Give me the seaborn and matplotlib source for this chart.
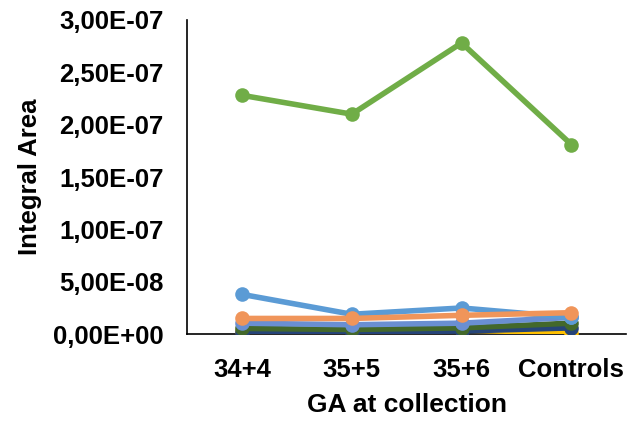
import matplotlib
matplotlib.use("Agg")
import matplotlib.pyplot as plt
import matplotlib.ticker as mticker
import seaborn as sns
import pandas as pd

categories = ["34+4", "35+5", "35+6", "Controls"]

# one list per series, drawn bottom-to-top in this order
gold = [3.0e-9, 3.0e-9, 4.0e-9, 1.0e-9]
dark_blue = [2.0e-9, 2.0e-9, 3.0e-9, 6.0e-9]
dark_green = [5.5e-9, 4.5e-9, 6.0e-9, 1.05e-8]
medium_blue = [1.05e-8, 9.0e-9, 1.05e-8, 1.6e-8]
light_blue = [3.8e-8, 1.9e-8, 2.5e-8, 1.6e-8]
orange = [1.5e-8, 1.5e-8, 1.8e-8, 2.05e-8]
green = [2.28e-7, 2.10e-7, 2.78e-7, 1.81e-7]

series = [
    ("S4", gold, "#FFC000"),
    ("S7", dark_blue, "#264478"),
    ("S12", dark_green, "#43682B"),
    ("S1", medium_blue, "#6A8FD2"),
    ("S5", light_blue, "#5B9BD5"),
    ("S2", orange, "#F0955A"),
    ("S6", green, "#70AD47"),
]

sns.set_theme(style="white")
plt.rcParams["font.family"] = ["Liberation Sans", "DejaVu Sans"]

fig = plt.figure(figsize=(6.43, 4.23), dpi=100)
ax = fig.add_axes([0.291, 0.210, 0.683, 0.743])

for i, (name, vals, color) in enumerate(series):
    df = pd.DataFrame({"GA": categories, "Area": vals})
    sns.lineplot(data=df, x="GA", y="Area", ax=ax, color=color,
                 linewidth=4.0, marker="o", markersize=10.5,
                 markeredgewidth=0, zorder=2 + i, sort=False)

ax.set_xlim(-0.5, 3.5)
ax.set_ylim(0, 3.0e-7)
ax.yaxis.set_major_locator(mticker.MultipleLocator(5e-8))
ax.yaxis.set_major_formatter(
    mticker.FuncFormatter(lambda v, _: f"{v:.2E}".replace(".", ",")))

for s in ["top", "right"]:
    ax.spines[s].set_visible(False)
for s in ["left", "bottom"]:
    ax.spines[s].set_color("black")
    ax.spines[s].set_linewidth(1.2)
ax.spines["bottom"].set_zorder(1)

ax.tick_params(axis="both", length=0, labelsize=18.5, colors="black")
ax.tick_params(axis="y", pad=17)
ax.tick_params(axis="x", pad=17)
for lab in ax.get_xticklabels() + ax.get_yticklabels():
    lab.set_fontweight("bold")

ax.set_xlabel("GA at collection", fontsize=19, fontweight="bold",
              color="black", labelpad=8)
ax.set_ylabel("Integral Area", fontsize=18.5, fontweight="bold",
              color="black", labelpad=8)

fig.savefig("out.png", dpi=100, facecolor="white")
